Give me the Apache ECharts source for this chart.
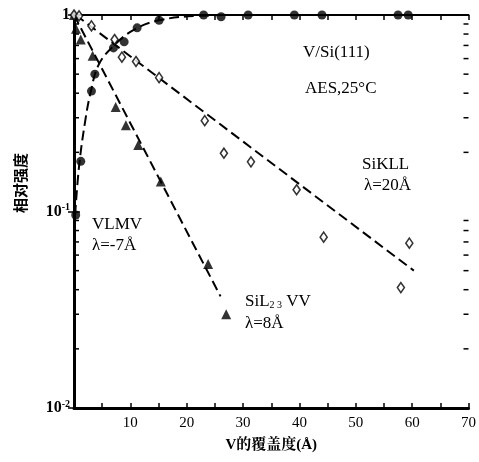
<!DOCTYPE html>
<html><head><meta charset="utf-8">
<script src="https://cdn.jsdelivr.net/npm/echarts@6/dist/echarts.min.js"></script>
<style>html,body{margin:0;padding:0;background:#fff}#c{width:479px;height:462px}</style>
</head><body><div id="c"></div>
<script>
// VLMV (filled circles)
const vlmvX = [0.3, 1.2, 3.1, 3.7, 7.0, 8.9, 11.2, 15.1, 23.0, 26.1, 30.9, 39.1, 44.0, 57.5, 59.3];
const vlmvY = [0.096, 0.18, 0.41, 0.50, 0.68, 0.73, 0.86, 0.94, 1.0, 0.98, 1.0, 1.0, 1.0, 1.0, 1.0];
// VLMV fitted curve (dashed)
const vlmvFitX = [0.2, 0.9, 2.0, 3.0, 4.4, 7.1, 10.6, 15.1, 22.2, 31, 59.4];
const vlmvFitY = [0.096, 0.17, 0.29, 0.41, 0.56, 0.70, 0.84, 0.94, 0.99, 1.0, 1.0];
// SiKLL (open diamonds)
const siKllX = [0, 0.9, 3.1, 7.2, 8.5, 11.0, 15.1, 23.2, 26.6, 31.4, 39.5, 44.3, 58.0, 59.5];
const siKllY = [1.0, 0.99, 0.88, 0.75, 0.61, 0.58, 0.48, 0.29, 0.198, 0.179, 0.129, 0.074, 0.041, 0.069];
const siKllFitX = [0.3, 60.3];
const siKllFitY = [1.0, 0.050];
// SiL23VV (filled triangles)
const siL23X = [0, 0.35, 1.2, 3.3, 7.4, 9.2, 11.4, 15.4, 23.8, 27.0];
const siL23Y = [1.0, 0.85, 0.75, 0.62, 0.34, 0.275, 0.218, 0.142, 0.054, 0.030];
const siL23FitX = [0, 26.0];
const siL23FitY = [1.0, 0.037];
// log minor tick values on the y axis
const minorTickVals = [0.02,0.03,0.04,0.05,0.06,0.07,0.08,0.09,0.2,0.3,0.4,0.5,0.6,0.7,0.8,0.9];

const zip = (xs, ys) => xs.map((x, i) => [x, ys[i]]);
const serif = '"Liberation Serif","Noto Serif CJK SC","Noto Sans CJK SC",serif';
const dashStyle = {color: '#000', width: 2, type: [10, 5]};

const chart = echarts.init(document.getElementById('c'), null, {renderer: 'canvas'});
chart.setOption({
  backgroundColor: '#fff',
  animation: false,
  grid: {left: 74, right: 9, top: 15, bottom: 54},
  xAxis: [{
    type: 'value', min: 0, max: 70, interval: 5, position: 'bottom',
    axisLine: {show: true, lineStyle: {color: '#000', width: 3}},
    axisTick: {show: true, inside: true, length: 5, lineStyle: {color: '#000', width: 1.5}},
    axisLabel: {
      formatter: v => (v > 0 && v % 10 === 0) ? String(v) : '',
      color: '#000', fontFamily: serif, fontSize: 15, margin: 8
    },
    splitLine: {show: false},
    name: 'V的覆盖度(Å)', nameLocation: 'middle', nameGap: 30,
    nameTextStyle: {color: '#000', fontFamily: serif, fontSize: 15, fontWeight: 'bold'}
  }, {
    type: 'value', min: 0, max: 70, interval: 5, position: 'top',
    axisLine: {show: true, lineStyle: {color: '#000', width: 2}},
    axisTick: {show: true, inside: true, length: 5, lineStyle: {color: '#000', width: 1.5}},
    axisLabel: {show: false}, splitLine: {show: false}
  }],
  yAxis: [{
    type: 'log', logBase: 10, min: 0.01, max: 1, position: 'left',
    axisLine: {show: true, lineStyle: {color: '#000', width: 3}},
    axisTick: {show: true, inside: true, length: 6, lineStyle: {color: '#000', width: 1.5}},
    axisLabel: {
      color: '#000', fontFamily: serif, fontSize: 15, fontWeight: 'bold', margin: 4,
      formatter: v => {
        if (Math.abs(v - 1) < 1e-9) return '{a|1}';
        if (Math.abs(v - 0.1) < 1e-9) return '{n|10}{s|-1}';
        if (Math.abs(v - 0.01) < 1e-9) return '{a|10}{s|-2}';
        return '';
      },
      rich: {
        a: {fontFamily: serif, fontSize: 16, fontWeight: 'bold', color: '#000'},
        n: {fontFamily: serif, fontSize: 16, color: '#000'},
        s: {fontFamily: serif, fontSize: 10, fontWeight: 'bold', color: '#000', verticalAlign: 'top', padding: [0, 0, 8, 0]}
      }
    },
    splitLine: {show: false}, minorTick: {show: false}
  }, {
    type: 'log', logBase: 10, min: 0.01, max: 1, position: 'right',
    axisLine: {show: true, lineStyle: {color: '#000', width: 2}},
    axisTick: {show: true, inside: true, length: 6, lineStyle: {color: '#000', width: 1.5}},
    axisLabel: {show: false}, splitLine: {show: false}
  }],
  series: [
    {
      type: 'line', name: 'VLMV fit', data: zip(vlmvFitX, vlmvFitY), showSymbol: false, symbol: 'none',
      smooth: 0.4, lineStyle: dashStyle, silent: true, clip: false, z: 2
    },
    {
      type: 'line', name: 'SiKLL fit', data: zip(siKllFitX, siKllFitY), symbol: 'none',
      lineStyle: dashStyle, silent: true, z: 2
    },
    {
      type: 'line', name: 'SiL23VV fit', data: zip(siL23FitX, siL23FitY), symbol: 'none',
      lineStyle: dashStyle, silent: true, z: 2
    },
    {
      type: 'scatter', name: 'VLMV', data: zip(vlmvX, vlmvY), symbol: 'circle', symbolSize: 9,
      itemStyle: {color: '#000'}, clip: false, z: 3
    },
    {
      type: 'scatter', name: 'SiKLL', data: zip(siKllX, siKllY), symbol: 'diamond', symbolSize: [7, 10],
      itemStyle: {color: '#fff', borderColor: '#000', borderWidth: 1.6}, clip: false, z: 4
    },
    {
      type: 'scatter', name: 'SiL23VV', data: zip(siL23X, siL23Y), symbol: 'triangle', symbolSize: 10,
      itemStyle: {color: '#000'}, clip: false, z: 3
    },
    {
      type: 'custom', name: 'minor ticks', silent: true, clip: false,
      data: minorTickVals.map(v => [0, v]),
      renderItem: (params, api) => {
        const v = api.value(1);
        const l = api.coord([0, v]);
        const r = api.coord([70, v]);
        const st = {stroke: '#000', lineWidth: 1.5};
        return {type: 'group', children: [
          {type: 'line', shape: {x1: l[0], y1: l[1], x2: l[0] + 5, y2: l[1]}, style: st},
          {type: 'line', shape: {x1: r[0] - 5, y1: r[1], x2: r[0], y2: r[1]}, style: st}
        ]};
      }
    }
  ],
  graphic: [
    {type: 'text', left: 303, top: 44, style: {text: 'V/Si(111)', fontFamily: serif, fontSize: 17, fill: '#000'}},
    {type: 'text', left: 305, top: 80, style: {text: 'AES,25°C', fontFamily: serif, fontSize: 17, fill: '#000'}},
    {type: 'text', left: 362, top: 156, style: {text: 'SiKLL', fontFamily: serif, fontSize: 17, fill: '#000'}},
    {type: 'text', left: 364, top: 177, style: {text: 'λ=20Å', fontFamily: serif, fontSize: 17, fill: '#000'}},
    {type: 'text', left: 92, top: 216, style: {text: 'VLMV', fontFamily: serif, fontSize: 17, fill: '#000'}},
    {type: 'text', left: 92, top: 237, style: {text: 'λ=-7Å', fontFamily: serif, fontSize: 17, fill: '#000'}},
    {type: 'text', left: 245, top: 293, style: {
      text: 'SiL{sub|2 3} VV', fontFamily: serif, fontSize: 17, fill: '#000',
      rich: {sub: {fontFamily: serif, fontSize: 10, fill: '#000', verticalAlign: 'bottom', padding: [6, 0, 0, 0]}}
    }},
    {type: 'text', left: 245, top: 315, style: {text: 'λ=8Å', fontFamily: serif, fontSize: 17, fill: '#000'}},
    {type: 'text', x: 20, y: 183, rotation: Math.PI / 2, style: {
      text: '相对强度', fontFamily: '"Noto Sans CJK SC",sans-serif', fontSize: 15, fontWeight: 'bold',
      fill: '#000', align: 'center', verticalAlign: 'middle'
    }}
  ]
});
</script>
</body></html>
